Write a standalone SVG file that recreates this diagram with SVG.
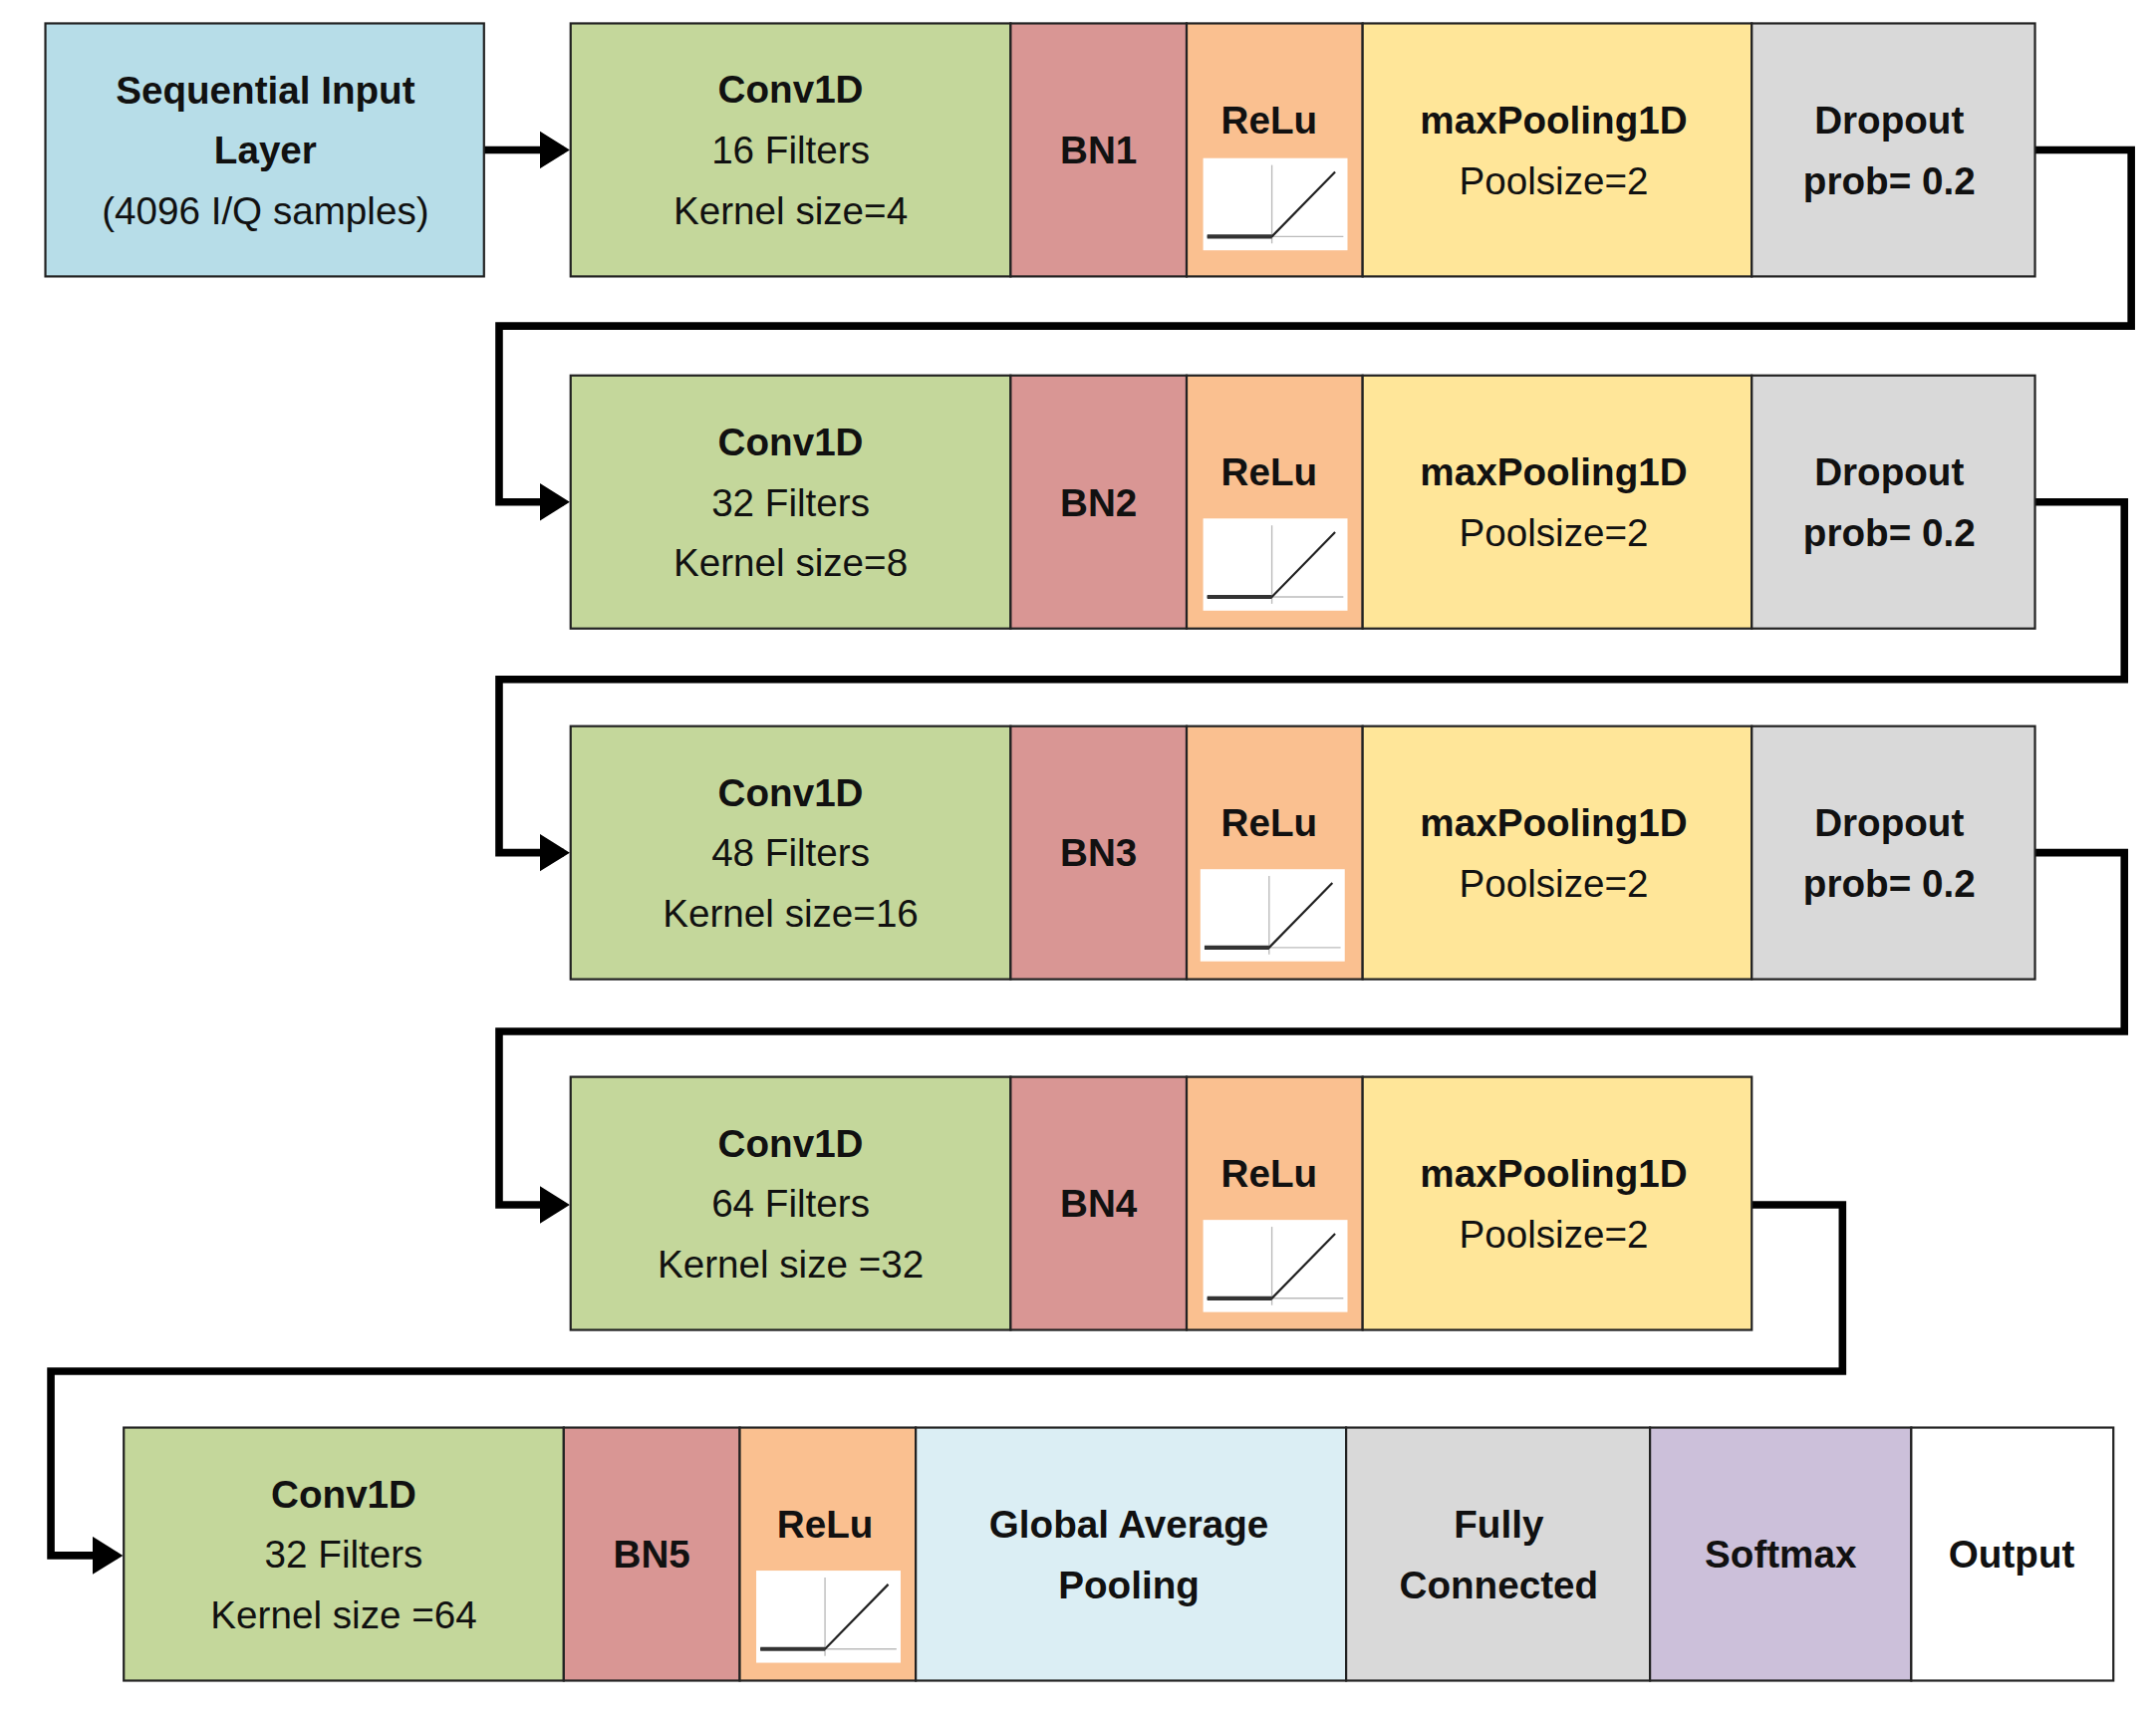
<svg xmlns="http://www.w3.org/2000/svg" width="2164" height="1732" viewBox="0 0 2164 1732">
<style>
.b{stroke:#222;stroke-width:1.6}
.t{font-family:"Liberation Sans",Arial,sans-serif;font-size:28px;fill:#111;text-anchor:middle}
.h{font-weight:bold}
.cv{fill:#c4d79b}.bn{fill:#d99694}.re{fill:#fac090}.mp{fill:#ffe699}.dr{fill:#d9d9d9}
.c{fill:none;stroke:#000;stroke-width:5.5;stroke-linejoin:miter}
</style>
<defs>
<marker id="a" markerWidth="4" markerHeight="5" refX="3.2" refY="2.5" orient="auto" markerUnits="strokeWidth"><path d="M0,0 L4,2.5 L0,5 Z" fill="#000"/></marker>
<g id="relu">
<rect x="0" y="0" width="105" height="67" fill="#fff"/>
<line x1="4" y1="57" x2="102" y2="57" stroke="#bbb" stroke-width="1"/>
<line x1="50" y1="5" x2="50" y2="62" stroke="#bbb" stroke-width="1"/>
<polyline points="3,57 50,57 96,10" fill="none" stroke="#222" stroke-width="1.6"/>
<line x1="3" y1="57" x2="50" y2="57" stroke="#333" stroke-width="3"/>
</g>
</defs>
<rect width="2164" height="1732" fill="#fff"/>
<g transform="scale(1.3801)">
<g id="connectors">
<polyline class="c" points="352,109 410,109" marker-end="url(#a)"/>
<polyline class="c" points="1480,109 1550,109 1550,237 363,237 363,365 410,365" marker-end="url(#a)"/>
<polyline class="c" points="1480,365 1545,365 1545,494 363,494 363,620 410,620" marker-end="url(#a)"/>
<polyline class="c" points="1480,620 1545,620 1545,750 363,750 363,876 410,876" marker-end="url(#a)"/>
<polyline class="c" points="1274,876 1340,876 1340,997 37,997 37,1131 85,1131" marker-end="url(#a)"/>
</g>
<g id="input">
<rect class="b" x="33" y="17" width="319" height="184" fill="#b7dde8"/>
<text class="t h" x="193" y="75">Sequential Input</text>
<text class="t h" x="193" y="119">Layer</text>
<text class="t" x="193" y="163">(4096 I/Q samples)</text>
</g>
<g id="block1" transform="translate(0,17)">
<rect class="b cv" x="415" y="0" width="320" height="184"/>
<rect class="b bn" x="735" y="0" width="128" height="184"/>
<rect class="b re" x="863" y="0" width="128" height="184"/>
<rect class="b mp" x="991" y="0" width="283" height="184"/>
<rect class="b dr" x="1274" y="0" width="206" height="184"/>
<text class="t h" x="575" y="58">Conv1D</text><text class="t" x="575" y="102">16 Filters</text><text class="t" x="575" y="146">Kernel size=4</text>
<text class="t h" x="799" y="102">BN1</text>
<text class="t h" x="923" y="80">ReLu</text><use href="#relu" x="875" y="98"/>
<text class="t h" x="1130" y="80">maxPooling1D</text><text class="t" x="1130" y="124">Poolsize=2</text>
<text class="t h" x="1374" y="80">Dropout</text><text class="t h" x="1374" y="124">prob= 0.2</text>
</g>
<g id="block2" transform="translate(0,273)">
<rect class="b cv" x="415" y="0" width="320" height="184"/>
<rect class="b bn" x="735" y="0" width="128" height="184"/>
<rect class="b re" x="863" y="0" width="128" height="184"/>
<rect class="b mp" x="991" y="0" width="283" height="184"/>
<rect class="b dr" x="1274" y="0" width="206" height="184"/>
<text class="t h" x="575" y="58">Conv1D</text><text class="t" x="575" y="102">32 Filters</text><text class="t" x="575" y="146">Kernel size=8</text>
<text class="t h" x="799" y="102">BN2</text>
<text class="t h" x="923" y="80">ReLu</text><use href="#relu" x="875" y="104"/>
<text class="t h" x="1130" y="80">maxPooling1D</text><text class="t" x="1130" y="124">Poolsize=2</text>
<text class="t h" x="1374" y="80">Dropout</text><text class="t h" x="1374" y="124">prob= 0.2</text>
</g>
<g id="block3" transform="translate(0,528)">
<rect class="b cv" x="415" y="0" width="320" height="184"/>
<rect class="b bn" x="735" y="0" width="128" height="184"/>
<rect class="b re" x="863" y="0" width="128" height="184"/>
<rect class="b mp" x="991" y="0" width="283" height="184"/>
<rect class="b dr" x="1274" y="0" width="206" height="184"/>
<text class="t h" x="575" y="58">Conv1D</text><text class="t" x="575" y="102">48 Filters</text><text class="t" x="575" y="146">Kernel size=16</text>
<text class="t h" x="799" y="102">BN3</text>
<text class="t h" x="923" y="80">ReLu</text><use href="#relu" x="873" y="104"/>
<text class="t h" x="1130" y="80">maxPooling1D</text><text class="t" x="1130" y="124">Poolsize=2</text>
<text class="t h" x="1374" y="80">Dropout</text><text class="t h" x="1374" y="124">prob= 0.2</text>
</g>
<g id="block4" transform="translate(0,783)">
<rect class="b cv" x="415" y="0" width="320" height="184"/>
<rect class="b bn" x="735" y="0" width="128" height="184"/>
<rect class="b re" x="863" y="0" width="128" height="184"/>
<rect class="b mp" x="991" y="0" width="283" height="184"/>
<text class="t h" x="575" y="58">Conv1D</text><text class="t" x="575" y="102">64 Filters</text><text class="t" x="575" y="146">Kernel size =32</text>
<text class="t h" x="799" y="102">BN4</text>
<text class="t h" x="923" y="80">ReLu</text><use href="#relu" x="875" y="104"/>
<text class="t h" x="1130" y="80">maxPooling1D</text><text class="t" x="1130" y="124">Poolsize=2</text>
</g>
<g id="block5" transform="translate(0,1038)">
<rect class="b cv" x="90" y="0" width="320" height="184"/>
<rect class="b bn" x="410" y="0" width="128" height="184"/>
<rect class="b re" x="538" y="0" width="128" height="184"/>
<rect class="b" x="666" y="0" width="313" height="184" fill="#dbeef4"/>
<rect class="b" x="979" y="0" width="221" height="184" fill="#d9d9d9"/>
<rect class="b" x="1200" y="0" width="190" height="184" fill="#ccc0da"/>
<rect class="b" x="1390" y="0" width="147" height="184" fill="#fff"/>
<text class="t h" x="250" y="58">Conv1D</text><text class="t" x="250" y="102">32 Filters</text><text class="t" x="250" y="146">Kernel size =64</text>
<text class="t h" x="474" y="102">BN5</text>
<text class="t h" x="600" y="80">ReLu</text><use href="#relu" x="550" y="104"/>
<text class="t h" x="821" y="80">Global Average</text><text class="t h" x="821" y="124">Pooling</text>
<text class="t h" x="1090" y="80">Fully</text><text class="t h" x="1090" y="124">Connected</text>
<text class="t h" x="1295" y="102">Softmax</text>
<text class="t h" x="1463" y="102">Output</text>
</g>
</g>
</svg>
